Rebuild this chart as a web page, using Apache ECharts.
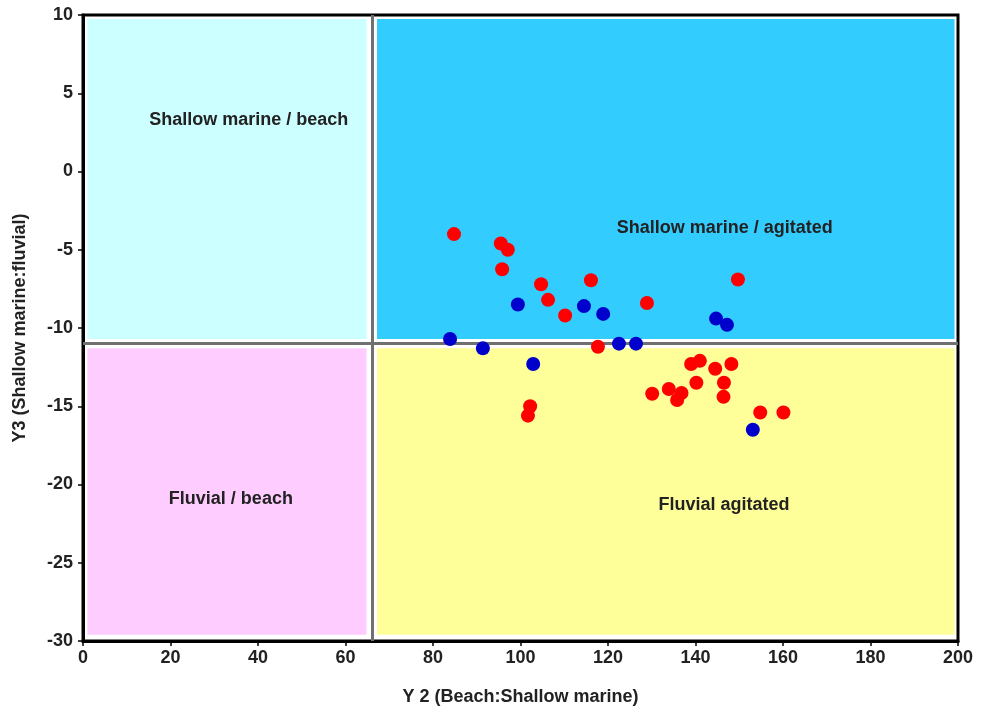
<!DOCTYPE html>
<html><head><meta charset="utf-8">
<script src="https://cdn.jsdelivr.net/npm/echarts@6/dist/echarts.min.js"></script>
<style>html,body{margin:0;padding:0;background:#fff;overflow:hidden}#c{width:989px;height:711px}</style>
</head><body><div id="c"></div>
<script>
const redX = [84.8, 95.5, 97.1, 95.8, 104.7, 106.3, 110.2, 116.1, 128.9, 149.7, 117.7, 102.2, 101.7, 139.0, 141.0, 144.5, 148.2, 140.2, 146.5, 133.9, 130.1, 136.8, 135.8, 146.4, 154.8, 160.1];
const redY = [-4.0, -4.6, -5.0, -6.25, -7.2, -8.2, -9.2, -6.95, -8.4, -6.9, -11.2, -15.0, -15.6, -12.3, -12.1, -12.6, -12.3, -13.5, -13.5, -13.9, -14.2, -14.15, -14.6, -14.4, -15.4, -15.4];
const blueX = [99.4, 114.5, 118.9, 83.9, 91.4, 102.9, 122.5, 126.4, 144.7, 147.2, 153.1];
const blueY = [-8.5, -8.6, -9.1, -10.7, -11.3, -12.3, -11.0, -11.0, -9.4, -9.8, -16.5];
const xDivide = 66;
const yDivide = -11;
const zoneNames = ['Shallow marine / beach', 'Shallow marine / agitated', 'Fluvial / beach', 'Fluvial agitated'];

const font = 'Liberation Sans, Arial, sans-serif';
const chart = echarts.init(document.getElementById('c'));
const pts = (xs, ys) => xs.map((x, i) => [x, ys[i]]);
const lbl = (txt, x, y) => ({ name: txt, coord: [x, y], value: txt });

chart.setOption({
  animation: false,
  grid: { left: 83, right: 31, top: 15, bottom: 66, show: true, borderColor: '#000', borderWidth: 3, backgroundColor: 'transparent' },
  xAxis: {
    type: 'value', min: 0, max: 200, interval: 20,
    name: 'Y 2 (Beach:Shallow marine)', nameLocation: 'middle', nameGap: 47,
    nameTextStyle: { fontFamily: font, fontWeight: 'bold', fontSize: 18, color: '#222' },
    axisLine: { onZero: false, lineStyle: { color: '#000', width: 3 } },
    axisTick: { show: true, length: 5, lineStyle: { color: '#000', width: 1.5 } },
    axisLabel: { fontFamily: font, fontWeight: 'bold', fontSize: 18, color: '#222', margin: 8 },
    splitLine: { show: false }
  },
  yAxis: {
    type: 'value', min: -30, max: 10, interval: 5,
    name: 'Y3 (Shallow marine:fluvial)', nameLocation: 'middle', nameGap: 54, nameRotate: 90,
    nameTextStyle: { fontFamily: font, fontWeight: 'bold', fontSize: 18, color: '#222' },
    axisLine: { onZero: false, lineStyle: { color: '#000', width: 3 } },
    axisTick: { show: true, length: 5, lineStyle: { color: '#000', width: 1.5 } },
    axisLabel: { fontFamily: font, fontWeight: 'bold', fontSize: 18, color: '#222', margin: 10 },
    splitLine: { show: false }
  },
  series: [
    {
      type: 'scatter', data: [], z: 1, silent: true,
      markArea: {
        silent: true,
        data: [
          [{ coord: [1, 9.75], itemStyle: { color: '#CCFFFF' } }, { coord: [64.8, -10.7] }],
          [{ coord: [67.2, 9.75], itemStyle: { color: '#33CCFF' } }, { coord: [199.2, -10.7] }],
          [{ coord: [1, -11.3], itemStyle: { color: '#FFCCFF' } }, { coord: [64.8, -29.6] }],
          [{ coord: [67.2, -11.3], itemStyle: { color: '#FFFF99' } }, { coord: [199.2, -29.6] }]
        ]
      },
      markLine: {
        silent: true, symbol: 'none', label: { show: false },
        lineStyle: { color: '#707070', width: 3, type: 'solid' },
        data: [{ xAxis: xDivide }, { yAxis: yDivide }]
      },
      markPoint: {
        silent: true, symbol: 'circle', symbolSize: 0,
        label: { show: true, fontFamily: font, fontWeight: 'bold', fontSize: 18, color: '#222', formatter: p => p.value },
        data: [
          lbl(zoneNames[0], 37.9, 3.3),
          lbl(zoneNames[1], 146.7, -3.6),
          lbl(zoneNames[2], 33.8, -20.9),
          lbl(zoneNames[3], 146.5, -21.3)
        ]
      }
    },
    { type: 'scatter', data: pts(redX, redY), symbolSize: 14, itemStyle: { color: '#FF0000', opacity: 1 }, z: 5 },
    { type: 'scatter', data: pts(blueX, blueY), symbolSize: 14, itemStyle: { color: '#0000CC', opacity: 1 }, z: 5 }
  ]
});
</script></body></html>
